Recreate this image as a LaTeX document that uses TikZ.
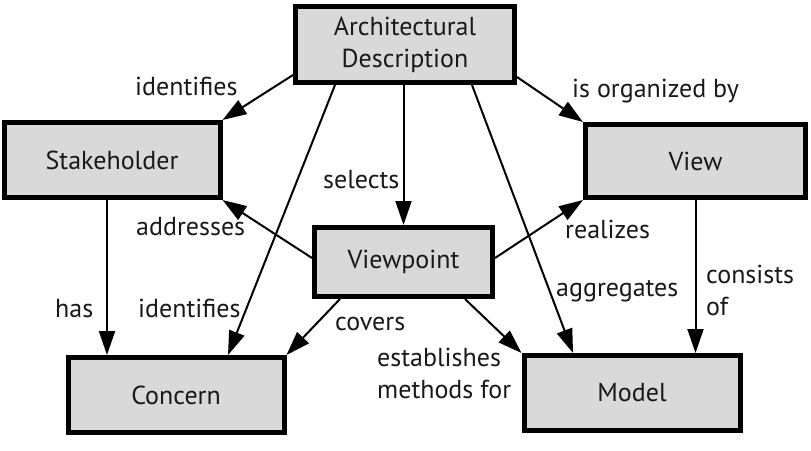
\documentclass[tikz,border=0pt]{standalone}
\usepackage{fontspec}
\setmainfont{PT Sans}
\usetikzlibrary{arrows.meta}

\begin{document}
\begin{tikzpicture}[x=1pt, y=-1pt, font=\fontsize{26}{32}\selectfont,
  box/.style={draw, line width=5pt, fill=gray!30, text=black!90, align=center,
    minimum width=216pt, minimum height=75pt},
  rel/.style={line width=2pt, -{Triangle[length=24pt, width=16pt]}},
  lbl/.style={text=black!90, align=left, inner sep=0pt, anchor=base west}]
  \useasboundingbox (0, 0) rectangle (811, 450);
  \node[box, minimum width=219pt, minimum height=76pt] (ad) at (405, 44.5) {Architectural\\Description};
  \node[box] (sh) at (112, 160) {Stakeholder};
  \node[box, minimum width=220pt, minimum height=73pt] (view) at (695.5, 161) {View};
  \node[box, minimum width=178pt, minimum height=69pt] (vp) at (403.5, 262) {Viewpoint};
  \node[box] (con) at (176, 395) {Concern};
  \node[box] (mod) at (632, 393) {Model};

  \draw[rel] ([yshift=10pt]ad.south west) -- (sh.north east);
  \draw[rel] ([yshift=8pt]ad.south east) -- (view.north west);
  \draw[rel] (vp.north |- ad.south) -- (vp.north);
  \draw[rel] ([xshift=42pt]ad.south west) -- ([xshift=52pt]con.north);
  \draw[rel] ([xshift=-45pt]ad.south east) -- ([xshift=-59pt]mod.north);
  \draw[rel] ([yshift=4pt]vp.west) -- (sh.south east);
  \draw[rel] ([yshift=4pt]vp.east) -- (view.south west);
  \draw[rel] ([xshift=28pt]vp.south west) -- (con.north east);
  \draw[rel] ([xshift=-30pt]vp.south east) -- (mod.north west);
  \draw[rel] ([xshift=-5pt]sh.south) -- ([xshift=-5pt]sh.south |- con.north);
  \draw[rel] (view.south) -- (view.south |- mod.north);

  \node[lbl] (l-ident1) at (135, 95) {identifies};
  \node[lbl] (l-organ) at (572, 97) {is organized by};
  \node[lbl] (l-sel) at (323, 188) {selects};
  \node[lbl] (l-addr) at (136, 235) {addresses};
  \node[lbl] (l-real) at (565, 238) {realizes};
  \node[lbl] (l-has) at (55, 317) {has};
  \node[lbl] (l-ident2) at (138, 317) {identifies};
  \node[lbl] (l-cov) at (335, 330) {covers};
  \node[lbl] (l-aggr) at (556, 296) {aggregates};
  \node[lbl] (l-estab) at (377, 398) {establishes\\methods for};
  \node[lbl] (l-cons) at (706, 315) {consists\\of};
\end{tikzpicture}
\end{document}
